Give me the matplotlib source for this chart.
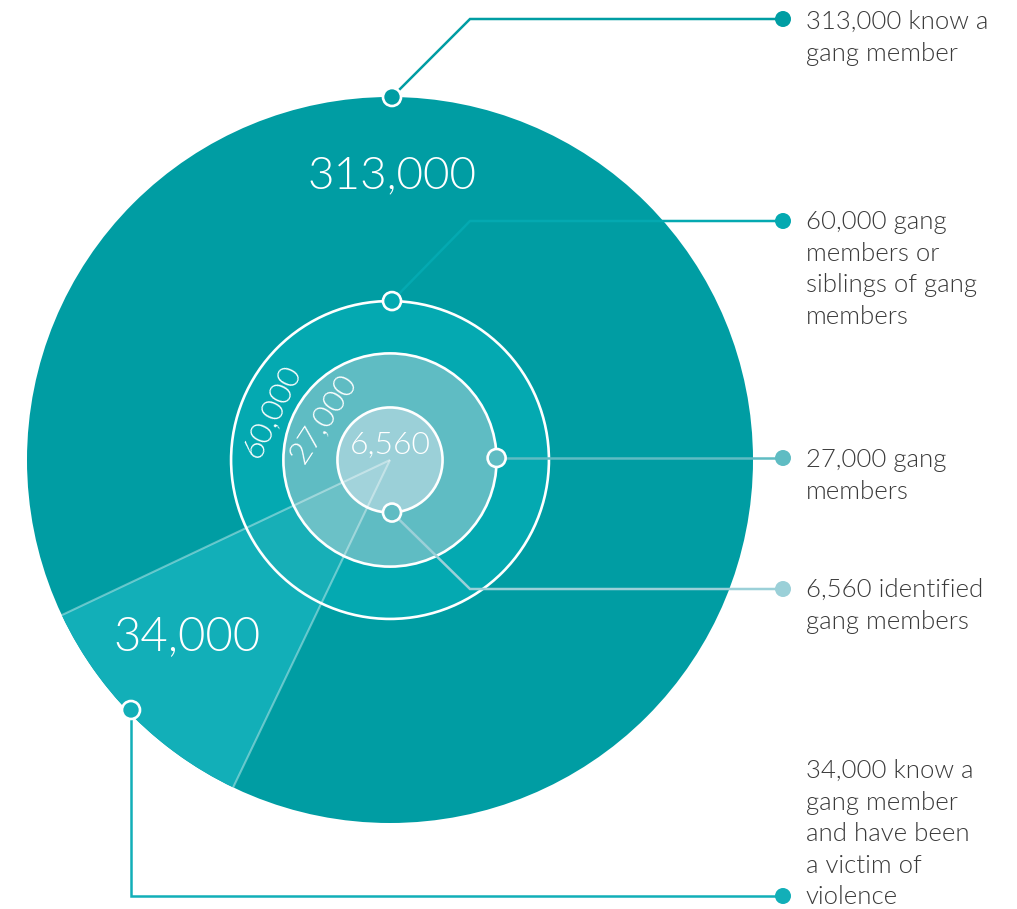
import numpy as np
import matplotlib
matplotlib.use("Agg")
import matplotlib.pyplot as plt
from matplotlib.patches import Circle, Wedge

# ---- data ----
values = [313000, 60000, 27000, 6560]
inner_labels = ["313,000", "60,000", "27,000", "6,560"]
victim_value = 34000
victim_label = "34,000"
callout_texts = [
    "313,000 know a\ngang member",
    "60,000 gang\nmembers or\nsiblings of gang\nmembers",
    "27,000 gang\nmembers",
    "6,560 identified\ngang members",
    "34,000 know a\ngang member\nand have been\na victim of\nviolence",
]

# ---- style ----
fill_colors = ["#009DA3", "#04A9B1", "#5FBCC3", "#9BD0D8"]
wedge_color = "#12AFB8"
text_color = "#3A3A3A"
FONT = ["Lato", "DejaVu Sans"]
plt.rcParams["font.family"] = FONT

W, H = 1017, 909
fig = plt.figure(figsize=(W / 100, H / 100), dpi=100)
ax = fig.add_axes([0, 0, 1, 1])
ax.set_xlim(0, W)
ax.set_ylim(H, 0)
ax.set_aspect("equal")
ax.axis("off")

cx, cy = 390, 460
R0 = 363.0
radii = [R0 * np.sqrt(v / values[0]) for v in values]

# outer circle
ax.add_patch(Circle((cx, cy), radii[0], facecolor=fill_colors[0], edgecolor="none", zorder=1))

# victim wedge (y axis inverted, so angles negated)
mid_angle = 224.85
span = victim_value / values[0] * 360
a1, a2 = mid_angle - span / 2, mid_angle + span / 2
ax.add_patch(Wedge((cx, cy), radii[0], -a2, -a1, facecolor=wedge_color, edgecolor="none", zorder=2))

# inner circles
for i in range(1, 4):
    ax.add_patch(Circle((cx, cy), radii[i], facecolor=fill_colors[i], edgecolor="white",
                        linewidth=1.9, zorder=3 + i))

# translucent wedge over inner circles
ax.add_patch(Wedge((cx, cy), radii[1] - 1, -a2, -a1, facecolor=(1, 1, 1, 0.08), edgecolor="none", zorder=8))
for a in (a1, a2):
    t = np.deg2rad(a)
    ax.plot([cx, cx + radii[0] * np.cos(t)], [cy, cy - radii[0] * np.sin(t)],
            color=(1, 1, 1, 0.38), lw=1.5, zorder=8, solid_capstyle="butt")

# inner labels
wt = 300
ax.text(cx + 2, cy - 284, inner_labels[0], color="white", fontsize=33, fontweight=wt,
        ha="center", va="center", zorder=10)
ax.text(272, 411, inner_labels[1], color="white", fontsize=23, fontweight=wt, rotation=64.5,
        ha="center", va="center", rotation_mode="anchor", zorder=10)
ax.text(323, 418, inner_labels[2], color="white", fontsize=23, fontweight=wt, rotation=57,
        ha="center", va="center", rotation_mode="anchor", zorder=10)
ax.text(cx, cy - 15, inner_labels[3], color="white", fontsize=23, fontweight=wt,
        ha="center", va="center", zorder=10)
ax.text(187, 637, victim_label, color="white", fontsize=34, fontweight=wt,
        ha="center", va="center", zorder=10)

# callouts
end_x = 783
text_x = 806
line_lw = 1.8
line_colors = [fill_colors[0], fill_colors[1], fill_colors[2], fill_colors[3], wedge_color]

m_top0 = (cx + 2, cy - radii[0])
m_top1 = (cx + 2, cy - radii[1])
m_right2 = (cx + radii[2], cy - 2)
m_bot3 = (cx + 2, cy + radii[3])
m_vict = (131, 710)

paths = [
    [m_top0, (470, 19), (end_x, 19)],
    [m_top1, (470, 221), (end_x, 221)],
    [m_right2, (end_x, m_right2[1])],
    [m_bot3, (470, 589), (end_x, 589)],
    [m_vict, (m_vict[0], 896), (end_x, 896)],
]
marker_fills = [fill_colors[0], fill_colors[1], fill_colors[2], fill_colors[2], wedge_color]

for k, p in enumerate(paths):
    xs = [q[0] for q in p]
    ys = [q[1] for q in p]
    ax.plot(xs, ys, color=line_colors[k], lw=line_lw, zorder=11, solid_joinstyle="miter")
    ax.add_patch(Circle(p[-1], 8, facecolor=line_colors[k], edgecolor="none", zorder=12))
    ax.add_patch(Circle(p[0], 9, facecolor=marker_fills[k], edgecolor="white", lw=1.9, zorder=12))

first_y = [22, 222, 460, 590, 771]
line_step = 31.6
for k, t in enumerate(callout_texts):
    for j, line in enumerate(t.split("\n")):
        ax.text(text_x, first_y[k] + j * line_step, line, color=text_color, fontsize=18.5,
                fontweight=wt, ha="left", va="center", zorder=12)

fig.savefig("out.png", dpi=100)
